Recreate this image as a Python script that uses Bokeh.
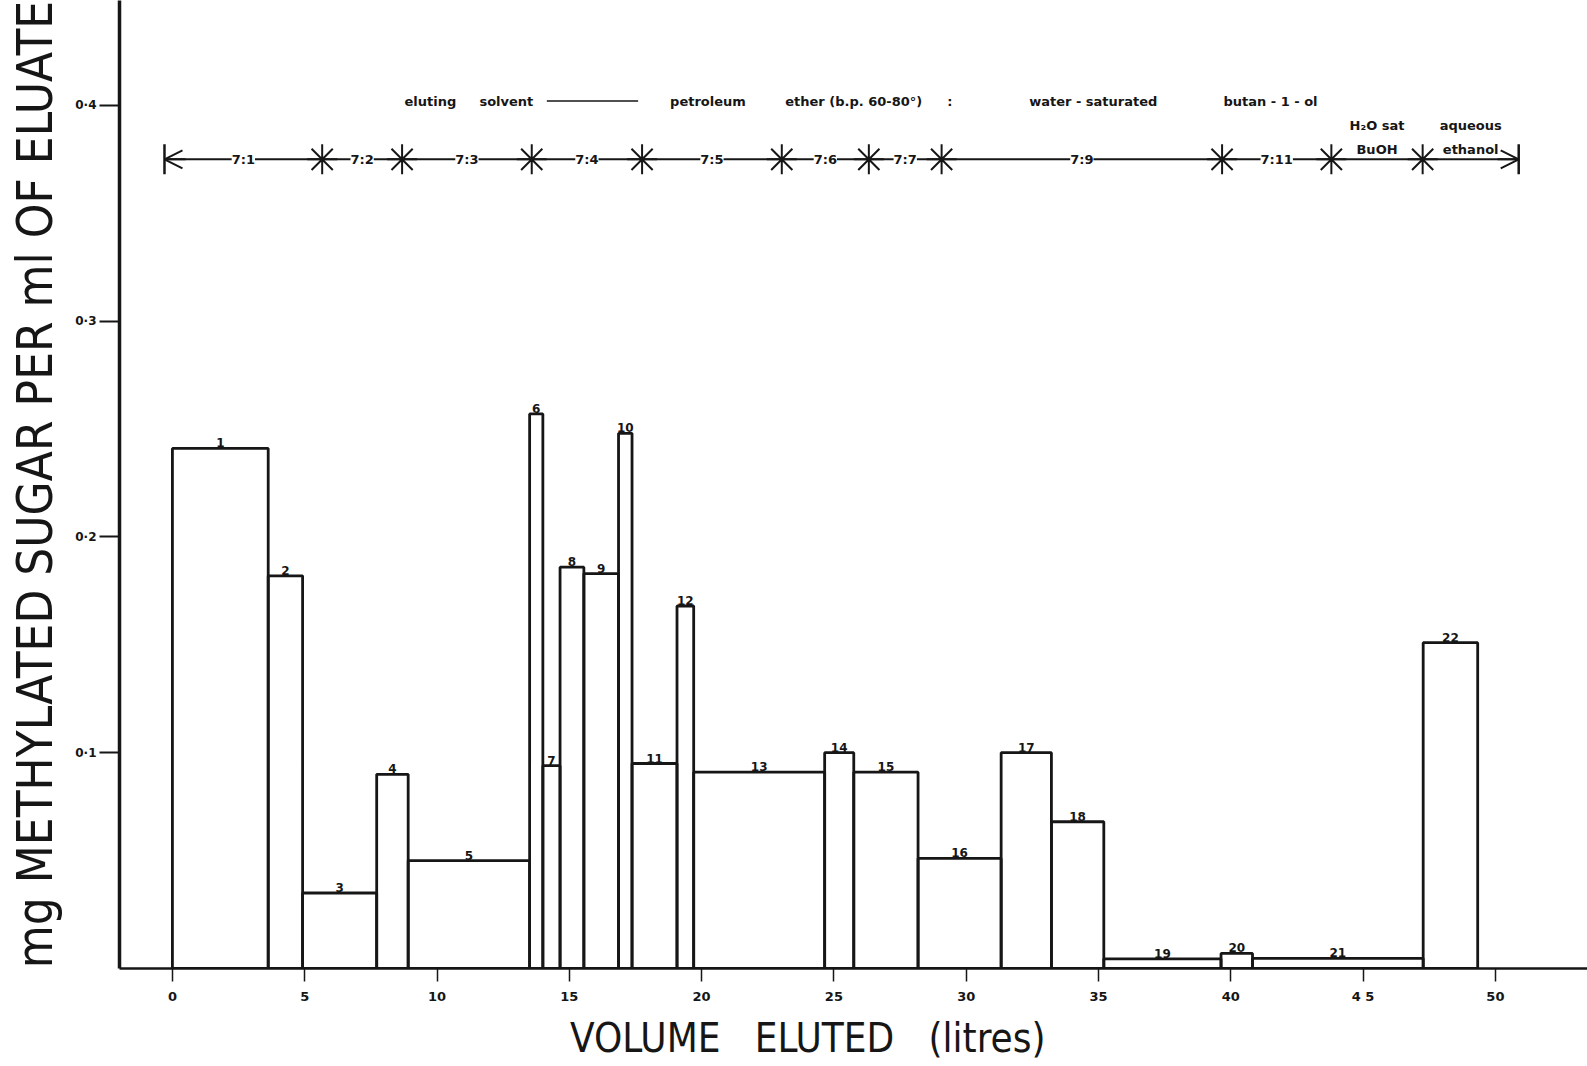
import math
from bokeh.plotting import figure
from bokeh.models import (ColumnDataSource, LabelSet, Label, Arrow, OpenHead,
                          FixedTicker, Range1d)
from bokeh.core.properties import value
from bokeh.embed import file_html
from bokeh.resources import INLINE

# Column fractions: boundaries in litres eluted, methylated sugar in mg per ml
fraction_edges = [0, 3.62, 4.92, 7.72, 8.91, 13.5, 14.0, 14.65, 15.55, 16.86,
                  17.37, 19.07, 19.70, 24.65, 25.75, 28.18, 31.32, 33.22, 35.2,
                  39.63, 40.82, 47.27, 49.33]
fraction_conc = [0.241, 0.182, 0.035, 0.090, 0.050, 0.257, 0.094, 0.186, 0.183,
                 0.248, 0.095, 0.168, 0.091, 0.100, 0.091, 0.051, 0.100, 0.068,
                 0.0045, 0.007, 0.0047, 0.151]
fraction_ids = [str(i) for i in range(1, 23)]

# Volumes (litres) at which the eluting solvent was changed
solvent_changes = [-0.3, 5.66, 8.68, 13.58, 17.75, 23.03, 26.32, 29.07, 39.67,
                   43.8, 47.25, 50.88]
solvent_ratios = ["7:1", "7:2", "7:3", "7:4", "7:5", "7:6", "7:7", "7:9", "7:11"]
final_solvents_top = ["H\u2082O sat", "aqueous"]
final_solvents_bottom = ["BuOH", "ethanol"]

x_ticks = [0, 5, 10, 15, 20, 25, 30, 35, 40, 45, 50]
y_ticks = [0.1, 0.2, 0.3, 0.4]
y_tick_labels = ["0\u00b71", "0\u00b72", "0\u00b73", "0\u00b74"]

INK = "#161616"
LABEL_FONT = "'DejaVu Sans Condensed', 'DejaVu Sans', sans-serif"
SMALL_FONT = "'DejaVu Sans', sans-serif"
NB = "\u00a0"

p = figure(width=1587, height=1066, output_backend="svg", toolbar_location=None,
           x_range=Range1d(-2.0, 53.48), y_range=Range1d(0, 0.4486),
           min_border_left=119, min_border_right=0, min_border_top=0,
           min_border_bottom=98)
p.outline_line_color = None
p.xgrid.visible = False
p.ygrid.visible = False
p.background_fill_color = "white"
p.border_fill_color = "white"

# fraction bars drawn as open outlines
left = fraction_edges[:-1]
right = fraction_edges[1:]
bars = ColumnDataSource(dict(
    left=left, right=right, top=fraction_conc,
    bottom=[0] * len(fraction_conc),
    xc=[(a + b) / 2 for a, b in zip(left, right)],
    label=fraction_ids))
p.quad(left="left", right="right", top="top", bottom="bottom", source=bars,
       fill_color=None, line_color=INK, line_width=2.8)
p.text(x="xc", y="top", text="label", source=bars, text_align="center",
       text_baseline="bottom", y_offset=-1, text_color=INK,
       text_font=value(SMALL_FONT), text_font_size="12px",
       text_font_style="bold")

# eluting-solvent schedule
row_y = 0.375
p.segment(x0=[solvent_changes[0]], y0=[row_y], x1=[solvent_changes[-1]],
          y1=[row_y], line_color=INK, line_width=2)
p.scatter(x=solvent_changes[1:-1], y=[row_y] * (len(solvent_changes) - 2),
          marker="asterisk", size=30, line_color=INK, line_width=2)
p.scatter(x=[solvent_changes[0], solvent_changes[-1]], y=[row_y, row_y],
          marker="dash", angle=math.pi / 2, size=30, line_color=INK,
          line_width=2.5)
p.add_layout(Arrow(x_start=solvent_changes[0] + 0.8, x_end=solvent_changes[0],
                   y_start=row_y, y_end=row_y, line_color=INK, line_width=2,
                   end=OpenHead(size=18, line_color=INK, line_width=2)))
p.add_layout(Arrow(x_start=solvent_changes[-1] - 0.8, x_end=solvent_changes[-1],
                   y_start=row_y, y_end=row_y, line_color=INK, line_width=2,
                   end=OpenHead(size=18, line_color=INK, line_width=2)))

mids = [(a + b) / 2 for a, b in zip(solvent_changes[:-1], solvent_changes[1:])]
ratio_src = ColumnDataSource(dict(x=mids[:len(solvent_ratios)],
                                  y=[row_y] * len(solvent_ratios),
                                  text=solvent_ratios))
p.add_layout(LabelSet(x="x", y="y", text="text", source=ratio_src,
                      text_align="center", text_baseline="middle",
                      text_color=INK, text_font=value(SMALL_FONT),
                      text_font_size="13px", text_font_style="bold",
                      background_fill_color="white"))

final_src = ColumnDataSource(dict(x=mids[len(solvent_ratios):],
                                  top=final_solvents_top,
                                  bottom=final_solvents_bottom))
p.text(x="x", y=row_y + 0.012, text="top", source=final_src,
       text_align="center", text_baseline="bottom", text_color=INK,
       text_font=value(SMALL_FONT), text_font_size="13px",
       text_font_style="bold")
p.text(x="x", y=row_y + 0.001, text="bottom", source=final_src,
       text_align="center", text_baseline="bottom", text_color=INK,
       text_font=value(SMALL_FONT), text_font_size="13px",
       text_font_style="bold")

# heading of the solvent schedule
note_y = 0.402
note_words = ["eluting", "solvent", "petroleum", "ether (b.p. 60-80\u00b0)", ":",
              "water - saturated", "butan - 1 - ol"]
note_x = [9.75, 12.62, 20.24, 25.75, 29.38, 34.8, 41.5]
p.text(x=note_x, y=[note_y] * len(note_words), text=note_words,
       text_align="center", text_baseline="middle", text_color=INK,
       text_font=value(SMALL_FONT), text_font_size="13px",
       text_font_style="bold")
p.segment(x0=[14.15], y0=[note_y], x1=[17.6], y1=[note_y], line_color=INK,
          line_width=1.5)

# pencilled note beside the 0.3 tick
p.add_layout(Label(x=101, y=0.313, x_units="canvas", y_units="data",
                   text="qy", angle=math.pi / 2,
                   text_align="center", text_baseline="middle",
                   text_color="#444444", text_font_size="15px",
                   text_font_style="italic"))

# axes
p.xaxis.ticker = FixedTicker(ticks=x_ticks)
p.yaxis.ticker = FixedTicker(ticks=y_ticks)
p.yaxis.major_label_overrides = dict(zip(y_ticks, y_tick_labels))
p.xaxis.major_label_overrides = {45: "4 5"}
for ax in (p.xaxis, p.yaxis):
    ax.axis_line_color = INK
    ax.major_tick_line_color = INK
    ax.minor_tick_line_color = None
    ax.major_tick_in = 0
    ax.major_label_text_color = INK
    ax.major_label_text_font = SMALL_FONT
    ax.major_label_text_font_style = "bold"
    ax.axis_label_text_color = INK
    ax.axis_label_text_font = LABEL_FONT
    ax.axis_label_text_font_style = "normal"

p.yaxis.axis_line_width = 3.5
p.yaxis.major_tick_line_width = 2
p.yaxis.major_tick_out = 20
p.yaxis.major_label_standoff = 3
p.yaxis.major_label_text_font_size = "12px"
p.yaxis.axis_label = "mg METHYLATED SUGAR PER ml OF ELUATE"
p.yaxis.axis_label_text_font_size = "49px"
p.yaxis.axis_label_standoff = 8

p.xaxis.axis_line_width = 2.5
p.xaxis.major_tick_line_width = 1.5
p.xaxis.major_tick_out = 13
p.xaxis.major_label_standoff = 7
p.xaxis.major_label_text_font_size = "13px"
p.xaxis.axis_label = ("VOLUME" + NB * 3 + "ELUTED" + NB * 3 + "(litres)"
                      + NB * 8)
p.xaxis.axis_label_text_font_size = "40px"
p.xaxis.axis_label_standoff = 8

open("out.html", "w").write(file_html(p, INLINE))
